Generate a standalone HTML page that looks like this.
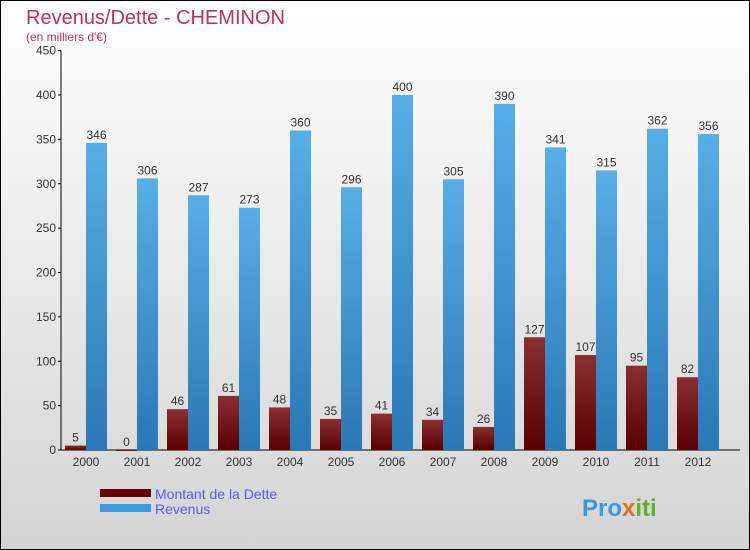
<!DOCTYPE html>
<html><head><meta charset="utf-8"><style>
body{margin:0}
svg{display:block;font-family:"Liberation Sans",sans-serif}
</style></head><body>
<svg id="c" width="750" height="550" xmlns="http://www.w3.org/2000/svg">
<defs>
<linearGradient id="bg" x1="0" y1="0" x2="0" y2="1"><stop offset="0" stop-color="#ffffff"/><stop offset="1" stop-color="#d4d4d4"/></linearGradient>
<linearGradient id="gr" x1="0" y1="0" x2="0" y2="1"><stop offset="0" stop-color="#8a2e32"/><stop offset="1" stop-color="#5a0000"/></linearGradient>
<linearGradient id="gb" x1="0" y1="0" x2="0" y2="1"><stop offset="0" stop-color="#58aee6"/><stop offset="1" stop-color="#2a78b6"/></linearGradient>
</defs>
<rect x="0.5" y="0.5" width="749" height="549" fill="url(#bg)" stroke="#000"/>
<text x="26" y="24" font-size="20" fill="#c0305a">Revenus/Dette - CHEMINON</text>
<text x="26" y="41" font-size="12" fill="#c0305a">(en milliers d'€)</text>
<g id="plot"></g>
<rect x="100" y="489" width="51" height="8" fill="#6a0000"/>
<text x="155" y="499" font-size="14" fill="#5b5bf0">Montant de la Dette</text>
<rect x="100" y="504" width="51" height="8" fill="#3a9ae0"/>
<text x="155" y="514" font-size="14" fill="#5b5bf0">Revenus</text>
<text x="582" y="516" font-size="24" font-weight="bold" fill="#3a9ae0">Pro<tspan fill="#e07020">x</tspan><tspan fill="#60b030">iti</tspan></text>
</svg>
<script>
const years=["2000","2001","2002","2003","2004","2005","2006","2007","2008","2009","2010","2011","2012"];
const dette=[5,0,46,61,48,35,41,34,26,127,107,95,82];
const revenus=[346,306,287,273,360,296,400,305,390,341,315,362,356];
const yTicks=[0,50,100,150,200,250,300,350,400,450];
const NS="http://www.w3.org/2000/svg";
const g=document.getElementById('plot');
const y0=450,yk=355/400;
function yS(v){return y0-v*yk;}
function xG(i){return 65+i*51;}
function mk(t,a,txt){const e=document.createElementNS(NS,t);for(const k in a)e.setAttribute(k,a[k]);if(txt!==undefined)e.textContent=txt;g.appendChild(e);return e;}
let e=mk('line',{x1:61,y1:yS(450),x2:61,y2:450,stroke:'#000'});


e=mk('line',{x1:61,y1:450,x2:740,y2:450,stroke:'#000'});


yTicks.forEach(v=>{
  let t=mk('line',{x1:58,y1:yS(v),x2:61,y2:yS(v),stroke:'#000'});
  
  
  let l=mk('text',{x:56,y:yS(v)+4,'font-size':12,fill:'#333','text-anchor':'end'},v);
  
  
});
years.forEach((yr,i)=>{
  const x=xG(i);
  let l=mk('text',{x:x+21,y:466,'font-size':12,fill:'#333','text-anchor':'middle'},yr);
  
  
  let b=mk('rect',{x:x,y:yS(dette[i]),width:21,height:Math.max(dette[i]*yk,1),fill:'url(#gr)'});
  
  
  let v=mk('text',{x:x+10.5,y:yS(dette[i])-4,'font-size':12,fill:'#333','text-anchor':'middle'},dette[i]);
  
  
  let r=mk('rect',{x:x+21,y:yS(revenus[i]),width:21,height:revenus[i]*yk,fill:'url(#gb)'});
  
  
  let w=mk('text',{x:x+31.5,y:yS(revenus[i])-4,'font-size':12,fill:'#333','text-anchor':'middle'},revenus[i]);
  
  
});
</script>
</body></html>
